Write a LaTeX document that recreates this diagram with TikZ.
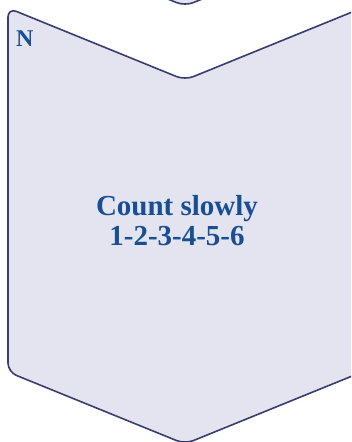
\documentclass[tikz,border=0pt]{standalone}
\usepackage{fontspec}
\setmainfont{Liberation Serif}
\definecolor{chevfill}{RGB}{228,228,240}
\definecolor{chevline}{RGB}{58,60,112}
\definecolor{txtblue}{RGB}{24,78,148}
\tikzset{
  chevron/.style={fill=chevfill, draw=chevline, line width=1.6pt, rounded corners=9pt, line join=round},
  bigtext/.style={text=txtblue, font=\bfseries\fontsize{29}{30}\selectfont, align=center, inner sep=0pt},
  tagtext/.style={text=txtblue, font=\bfseries\fontsize{24}{26}\selectfont, inner sep=0pt}
}
\begin{document}
\begin{tikzpicture}[x=1pt,y=-1pt]
\useasboundingbox (0,0) rectangle (351,442);
\begin{scope}
\clip (0,0) rectangle (351,442);
% previous chevron (only its tip is visible)
\path[chevron] (8,-400) -- (8,-66) -- (185,6) -- (362,-66) -- (362,-400) -- cycle;
% main chevron
\path[chevron] (8,8) -- (185,80) -- (362,8) -- (362,372) -- (185,444) -- (8,372) -- cycle;
\end{scope}
\node[tagtext, anchor=base west] (tag) at (16,46.5) {N};
\node[bigtext] (label) at (177,221) {Count slowly\\1-2-3-4-5-6};
\end{tikzpicture}
\end{document}
